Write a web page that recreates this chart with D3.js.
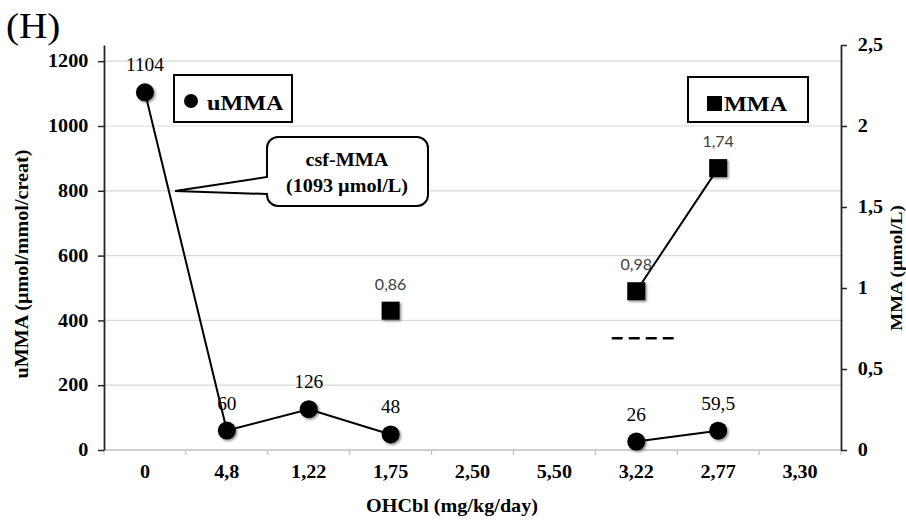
<!DOCTYPE html>
<html>
<head>
<meta charset="utf-8">
<title>uMMA / MMA vs OHCbl</title>
<script src="https://cdn.jsdelivr.net/npm/d3@7/dist/d3.min.js"></script>
<style>
  body { margin: 0; background: #fff; }
  svg text { font-family: "Liberation Serif", "Times New Roman", serif; }
  .serif-b { font-weight: bold; }
  .val-l { font-family: Lato, "Open Sans", sans-serif !important; fill: #404040; }
</style>
</head>
<body>
<svg id="chart" width="906" height="520"></svg>
<script>
// ---- data ----
var categories = ["0", "4,8", "1,22", "1,75", "2,50", "5,50", "3,22", "2,77", "3,30"];
var ummaValues = [1104, 60, 126, 48, null, null, 26, 59.5, null];
var mmaValues  = [null, null, null, 0.86, null, null, 0.98, 1.74, null];
var leftTicks  = [0, 200, 400, 600, 800, 1000, 1200];
var rightTicks = [0, 0.5, 1, 1.5, 2, 2.5];
var refDash    = { value: 0.69, from: 5.7, to: 6.5 };   // dashed reference, MMA units
var csfNote    = ["csf-MMA", "(1093 \u00b5mol/L)"];

var comma = function(v) { return String(v).replace(".", ","); };
var SX = 1.12;   // the original text is drawn a bit wider than Times

var svg = d3.select("#chart");
var pLeft = 104, pRight = 841, pTop = 45, pBottom = 450;

var x = d3.scaleBand().domain(categories).range([pLeft, pRight]);
var xi = d3.scaleLinear().domain([0, categories.length - 1])
    .range([x(categories[0]) + x.bandwidth() / 2, x(categories[categories.length - 1]) + x.bandwidth() / 2]);
var y = d3.scaleLinear().domain([0, 1250]).range([pBottom, pTop]);
var y2 = d3.scaleLinear().domain([0, 2.5]).range([pBottom, pTop]);

var defs = svg.append("defs");
var f = defs.append("filter").attr("id", "shadow").attr("x", "-50%").attr("y", "-50%")
    .attr("width", "200%").attr("height", "200%");
f.append("feDropShadow").attr("dx", 1.5).attr("dy", 1.5).attr("stdDeviation", 1.3)
    .attr("flood-color", "#000").attr("flood-opacity", 0.45);

// gridlines
svg.append("g").selectAll("line")
    .data(leftTicks.filter(function(d) { return d > 0; }))
    .enter().append("line")
    .attr("x1", pLeft).attr("x2", pRight)
    .attr("y1", function(d) { return y(d); }).attr("y2", function(d) { return y(d); })
    .attr("stroke", "#d9d9d9").attr("stroke-width", 1.2);

// x axis line + ticks at band edges
svg.append("line").attr("x1", pLeft).attr("x2", pRight).attr("y1", pBottom).attr("y2", pBottom)
    .attr("stroke", "#bfbfbf").attr("stroke-width", 1.5);
var edges = categories.map(function(c) { return x(c); }).concat([pRight]);
svg.append("g").selectAll("line").data(edges).enter().append("line")
    .attr("x1", function(d) { return d; }).attr("x2", function(d) { return d; })
    .attr("y1", pBottom).attr("y2", pBottom + 5)
    .attr("stroke", "#bfbfbf").attr("stroke-width", 1.2);

var xAxis = svg.append("g").attr("transform", "translate(0," + pBottom + ")")
    .call(d3.axisBottom(x).tickSize(0).tickPadding(15));
xAxis.select(".domain").remove();
xAxis.selectAll("text").attr("class", "serif-b").style("font-size", "18px").attr("fill", "#000")
    .attr("transform", "scale(" + SX + ",1)");

// left axis
var yAxis = svg.append("g").attr("transform", "translate(" + pLeft + ",0)")
    .call(d3.axisLeft(y).tickValues(leftTicks).tickFormat(d3.format("d"))
        .tickSize(6).tickSizeOuter(0).tickPadding(8));
yAxis.select(".domain").attr("stroke", "#262626").attr("stroke-width", 1.8);
yAxis.selectAll(".tick line").attr("stroke", "#262626").attr("stroke-width", 1.5);
yAxis.selectAll("text").attr("class", "serif-b").style("font-size", "18px").attr("fill", "#000")
    .attr("transform", "scale(" + SX + ",1)");

// right axis
var y2Axis = svg.append("g").attr("transform", "translate(" + pRight + ",0)")
    .call(d3.axisRight(y2).tickValues(rightTicks).tickFormat(comma).tickSize(6).tickSizeOuter(0).tickPadding(9));
y2Axis.select(".domain").attr("stroke", "#262626").attr("stroke-width", 1.8);
y2Axis.selectAll(".tick line").attr("stroke", "#262626").attr("stroke-width", 1.5);
y2Axis.selectAll("text").attr("class", "serif-b").style("font-size", "18px").attr("fill", "#000")
    .attr("transform", "scale(" + SX + ",1)");

// axis titles
svg.append("text").attr("class", "serif-b").style("font-size", "18px")
    .attr("text-anchor", "middle")
    .attr("transform", "translate(452,512) scale(" + SX + ",1)")
    .text("OHCbl (mg/kg/day)");
svg.append("text").attr("class", "serif-b").style("font-size", "18px")
    .attr("text-anchor", "middle")
    .attr("transform", "translate(28,264) rotate(-90) scale(" + SX + ",1)")
    .text("uMMA (\u00b5mol/mmol/creat)");
svg.append("text").attr("class", "serif-b").style("font-size", "17px")
    .attr("text-anchor", "middle")
    .attr("transform", "translate(902,268) rotate(-90) scale(" + SX + ",1)")
    .text("MMA (\u00b5mol/L)");

// panel letter
svg.append("text").style("font-size", "35px")
    .attr("transform", "translate(6,38) scale(1.12,1)")
    .text("(H)");

// dashed reference
svg.append("line")
    .attr("x1", xi(refDash.from)).attr("x2", xi(refDash.to))
    .attr("y1", y2(refDash.value)).attr("y2", y2(refDash.value))
    .attr("stroke", "#000").attr("stroke-width", 2.6).attr("stroke-dasharray", "11,6");

// series
var idx = d3.range(categories.length);
var lineU = d3.line().defined(function(i) { return ummaValues[i] != null; })
    .x(function(i) { return xi(i); }).y(function(i) { return y(ummaValues[i]); });
var lineM = d3.line().defined(function(i) { return mmaValues[i] != null; })
    .x(function(i) { return xi(i); }).y(function(i) { return y2(mmaValues[i]); });

svg.append("path").attr("d", lineU(idx)).attr("fill", "none").attr("stroke", "#000").attr("stroke-width", 2);
svg.append("path").attr("d", lineM(idx)).attr("fill", "none").attr("stroke", "#000").attr("stroke-width", 2);

var uIdx = idx.filter(function(i) { return ummaValues[i] != null; });
var mIdx = idx.filter(function(i) { return mmaValues[i] != null; });

svg.append("g").attr("filter", "url(#shadow)").selectAll("circle").data(uIdx).enter().append("circle")
    .attr("cx", function(i) { return xi(i); }).attr("cy", function(i) { return y(ummaValues[i]); })
    .attr("r", 9).attr("fill", "#000");
svg.append("g").attr("filter", "url(#shadow)").selectAll("rect").data(mIdx).enter().append("rect")
    .attr("x", function(i) { return xi(i) - 9; }).attr("y", function(i) { return y2(mmaValues[i]) - 9; })
    .attr("width", 18).attr("height", 18).attr("fill", "#000");

svg.append("g").selectAll("text").data(uIdx).enter().append("text")
    .style("font-size", "19px").attr("text-anchor", "middle")
    .attr("transform", function(i) {
        return "translate(" + xi(i) + "," + (y(ummaValues[i]) - 21) + ") scale(1.02,1)";
    })
    .text(function(i) { return comma(ummaValues[i]); });
svg.append("g").selectAll("text").data(mIdx).enter().append("text")
    .attr("class", "val-l").style("font-size", "16px").attr("text-anchor", "middle")
    .attr("x", function(i) { return xi(i); }).attr("y", function(i) { return y2(mmaValues[i]) - 21; })
    .text(function(i) { return comma(mmaValues[i]); });

// legend boxes
var lg1 = svg.append("g");
lg1.append("rect").attr("x", 174).attr("y", 75).attr("width", 118).attr("height", 47)
    .attr("fill", "#fff").attr("stroke", "#000").attr("stroke-width", 2);
lg1.append("circle").attr("cx", 191).attr("cy", 101).attr("r", 7).attr("fill", "#000");
lg1.append("text").attr("class", "serif-b").style("font-size", "22px")
    .attr("transform", "translate(207,110) scale(1.1,1)").text("uMMA");

var lg2 = svg.append("g");
lg2.append("rect").attr("x", 688).attr("y", 77).attr("width", 120).attr("height", 45)
    .attr("fill", "#fff").attr("stroke", "#000").attr("stroke-width", 2);
lg2.append("rect").attr("x", 707).attr("y", 96).attr("width", 15).attr("height", 15).attr("fill", "#000");
lg2.append("text").attr("class", "serif-b").style("font-size", "22px")
    .attr("transform", "translate(724,111) scale(1.1,1)").text("MMA");

// callout
var bx = 267, by = 137, bw = 161, bh = 69, r = 11;
var tipX = 175, tipY = 191, p1 = 177, p2 = 194;
var call = d3.path();
call.moveTo(bx + r, by);
call.lineTo(bx + bw - r, by);
call.arcTo(bx + bw, by, bx + bw, by + r, r);
call.lineTo(bx + bw, by + bh - r);
call.arcTo(bx + bw, by + bh, bx + bw - r, by + bh, r);
call.lineTo(bx + r, by + bh);
call.arcTo(bx, by + bh, bx, by + bh - r, r);
call.lineTo(bx, p2);
call.lineTo(tipX, tipY);
call.lineTo(bx, p1);
call.lineTo(bx, by + r);
call.arcTo(bx, by, bx + r, by, r);
call.closePath();
svg.append("path").attr("d", call.toString()).attr("fill", "#fff")
    .attr("stroke", "#000").attr("stroke-width", 2);
svg.append("g").selectAll("text").data(csfNote).enter().append("text")
    .attr("class", "serif-b").style("font-size", "18px").attr("text-anchor", "middle")
    .attr("transform", function(d, i) { return "translate(347," + (166 + i * 26) + ") scale(" + SX + ",1)"; })
    .text(function(d) { return d; });
</script>
</body>
</html>
